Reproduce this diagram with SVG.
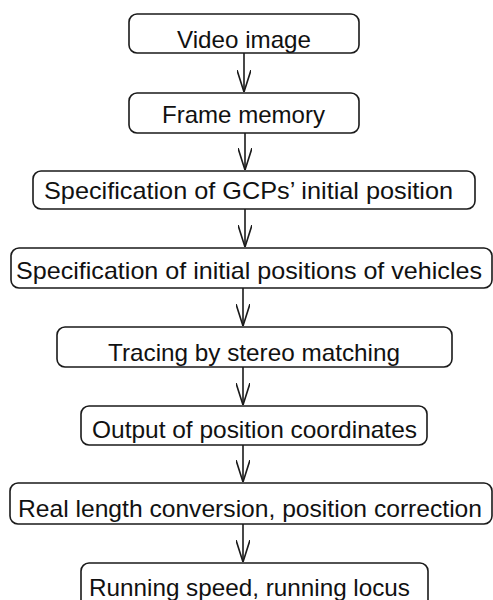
<svg xmlns="http://www.w3.org/2000/svg" width="493" height="600" viewBox="0 0 493 600">
<defs>
<marker id="v" viewBox="0 0 22 14" refX="22" refY="7" markerWidth="22" markerHeight="14" markerUnits="userSpaceOnUse" orient="auto">
<path d="M0,0 L22,7 L0,14" fill="none" stroke="#1a1a1a" stroke-width="1.6"/>
</marker>
<style>
.box{fill:#fff;stroke:#1a1a1a;stroke-width:1.6}
.t{font-family:"Liberation Sans",Arial,sans-serif;font-size:24px;fill:#111;text-anchor:middle}
.c{stroke:#1a1a1a;stroke-width:1.6;fill:none;marker-end:url(#v)}
</style>
</defs>
<rect width="493" height="600" fill="#fff"/>
<g id="connectors">
<line class="c" x1="244" y1="53" x2="244" y2="92"/>
<line class="c" x1="245" y1="133" x2="245" y2="170"/>
<line class="c" x1="245" y1="209" x2="245" y2="247"/>
<line class="c" x1="243" y1="288" x2="243" y2="326"/>
<line class="c" x1="243" y1="367" x2="243" y2="405"/>
<line class="c" x1="243" y1="445" x2="243" y2="482"/>
<line class="c" x1="243" y1="524" x2="243" y2="562"/>
</g>
<g id="n1"><rect class="box" x="129" y="14" width="230" height="39" rx="8"/><text class="t" x="244" y="47.5" textLength="134" lengthAdjust="spacingAndGlyphs">Video image</text></g>
<g id="n2"><rect class="box" x="129" y="93" width="230" height="40" rx="8"/><text class="t" x="243.5" y="123" textLength="163" lengthAdjust="spacingAndGlyphs">Frame memory</text></g>
<g id="n3"><rect class="box" x="33" y="171" width="442" height="38" rx="8"/><text class="t" x="248.5" y="199" textLength="409" lengthAdjust="spacingAndGlyphs">Specification of GCPs’ initial position</text></g>
<g id="n4"><rect class="box" x="11" y="248" width="481" height="40" rx="8"/><text class="t" x="249" y="279" textLength="466" lengthAdjust="spacingAndGlyphs">Specification of initial positions of vehicles</text></g>
<g id="n5"><rect class="box" x="57" y="327" width="395" height="40" rx="8"/><text class="t" x="254" y="361" textLength="292" lengthAdjust="spacingAndGlyphs">Tracing by stereo matching</text></g>
<g id="n6"><rect class="box" x="81" y="406" width="346" height="39" rx="8"/><text class="t" x="254.5" y="438" textLength="325" lengthAdjust="spacingAndGlyphs">Output of position coordinates</text></g>
<g id="n7"><rect class="box" x="10" y="483" width="482" height="41" rx="8"/><text class="t" x="250" y="517" textLength="464" lengthAdjust="spacingAndGlyphs">Real length conversion, position correction</text></g>
<g id="n8"><rect class="box" x="81" y="563" width="347" height="45" rx="8"/><text class="t" x="249.5" y="596" textLength="321" lengthAdjust="spacingAndGlyphs">Running speed, running locus</text></g>
</svg>
